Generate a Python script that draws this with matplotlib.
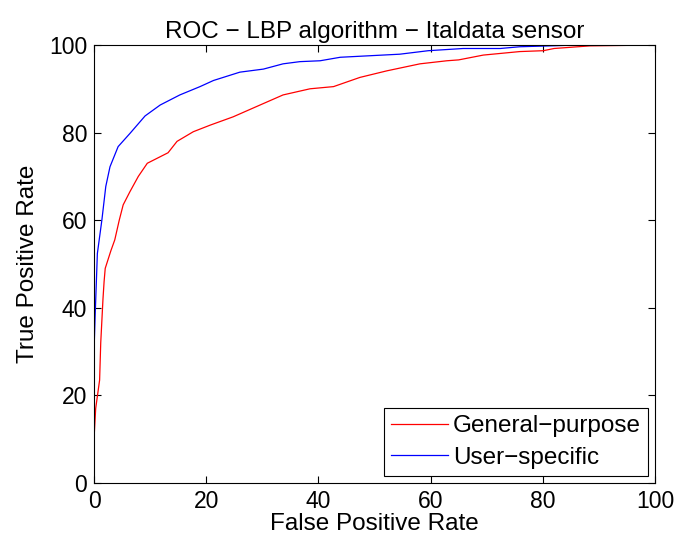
import matplotlib
matplotlib.use("Agg")
import matplotlib.pyplot as plt

plt.rcParams['font.family'] = ['Liberation Sans', 'DejaVu Sans']

# ROC points (false positive rate %, true positive rate %)
general_fpr = [0, 0, 0.3, 1.0, 1.2, 1.6, 1.8, 2.0, 3.0, 3.7, 4.5, 5.2, 6.4, 7.9,
               9.5, 13.2, 14.8, 17.7, 20.7, 24.8, 29.6, 33.7, 38.5, 42.7, 47.4,
               52.2, 58.1, 62.9, 65.0, 69.4, 75.9, 80.1, 82.0, 88.4, 100]
general_tpr = [0, 10, 17, 23.5, 32, 42, 46, 49, 53, 55.5, 60, 63.5, 66.5, 70,
               73, 75.4, 78, 80.2, 81.7, 83.6, 86.3, 88.6, 90, 90.5, 92.6,
               94.1, 95.7, 96.4, 96.6, 97.7, 98.5, 98.7, 99.2, 99.8, 100]

user_fpr = [0, 0, 0.2, 0.6, 1.4, 2.1, 2.85, 4.3, 6.4, 9.1, 11.8, 15.3, 18.9,
            21.3, 26.0, 30.2, 33.7, 36.7, 40.3, 43.9, 54.5, 59.6, 65.8, 72.4,
            75.9, 81.3, 86.0, 100]
user_tpr = [0, 30, 38, 52.4, 60, 67.7, 72.2, 76.8, 79.8, 83.8, 86.3, 88.6, 90.5,
            91.9, 93.8, 94.5, 95.7, 96.2, 96.4, 97.2, 97.9, 98.7, 99.2, 99.2,
            99.6, 99.8, 100, 100]

fig = plt.figure(figsize=(6.78, 5.43), dpi=100)
ax = fig.add_axes([94 / 678, 60 / 543, 561 / 678, 438 / 543])

ax.plot(general_fpr, general_tpr, color='red', linewidth=0.9, label='General\u2212purpose')
ax.plot(user_fpr, user_tpr, color='blue', linewidth=0.9, label='User\u2212specific')

ax.set_xlim(0, 100)
ax.set_ylim(0, 100)
ax.set_xticks(range(0, 101, 20))
ax.set_yticks(range(0, 101, 20))
ax.tick_params(direction='in', top=True, right=True, length=5, width=0.8,
               labelsize=16.5, pad=5)
for s in ax.spines.values():
    s.set_linewidth(0.8)

ax.set_title('ROC \u2212 LBP algorithm \u2212 Italdata sensor', fontsize=17.5, pad=5)
ax.set_xlabel('False Positive Rate', fontsize=17.5, labelpad=0)
ax.set_ylabel('True Positive Rate', fontsize=17.5, labelpad=7)

leg = ax.legend(loc='lower right', fontsize=17.5, fancybox=False, framealpha=1,
                edgecolor='black', borderaxespad=0.28, handlelength=2.35,
                handletextpad=0.2, borderpad=0.3, labelspacing=0.4)
leg.get_frame().set_linewidth(0.8)

fig.savefig('out.png', dpi=100)
